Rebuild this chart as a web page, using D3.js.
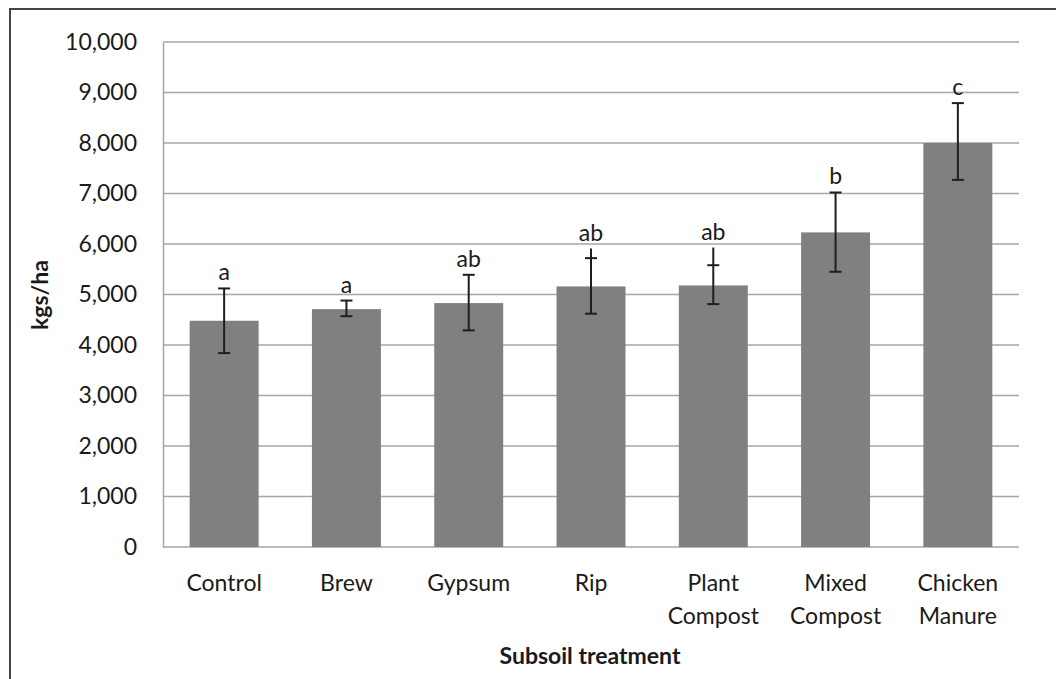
<!DOCTYPE html>
<html>
<head>
<meta charset="utf-8">
<script src="https://cdn.jsdelivr.net/npm/d3@7/dist/d3.min.js"></script>
<style>
  html, body { margin: 0; padding: 0; background: #fff; }
  svg { display: block; font-family: Lato, "Open Sans", sans-serif; }
</style>
</head>
<body>
<svg id="chart" width="1056" height="679"></svg>
<script>
// Subsoil treatment yields (kgs/ha) with error bars and significance letters
const categories = [["Control"], ["Brew"], ["Gypsum"], ["Rip"], ["Plant", "Compost"], ["Mixed", "Compost"], ["Chicken", "Manure"]];
const means      = [4480, 4710, 4830, 5160, 5180, 6230, 8000];
const errLow     = [3840, 4570, 4290, 4620, 4810, 5450, 7270];
const errHigh    = [5120, 4880, 5390, 5720, 5580, 7020, 8790];
const stemTop    = [5120, 4880, 5390, 5910, 5930, 7020, 8790];
const letters    = ["a", "a", "ab", "ab", "ab", "b", "c"];
const yTicks     = [0, 1000, 2000, 3000, 4000, 5000, 6000, 7000, 8000, 9000, 10000];

const svg = d3.select("#chart");
const margin = { left: 163, right: 37, top: 42, bottom: 132 };
const W = 1056, H = 679;
const innerW = W - margin.left - margin.right;
const innerH = H - margin.top - margin.bottom;

// outer frame
svg.append("rect")
  .attr("x", 10).attr("y", 9)
  .attr("width", 1200).attr("height", 800)
  .attr("fill", "none").attr("stroke", "#444").attr("stroke-width", 2);

const g = svg.append("g").attr("transform", `translate(${margin.left},${margin.top})`);

const keys = categories.map(c => c.join(" "));
const x = d3.scaleBand().domain(keys).range([0, innerW]).paddingInner(0.436).paddingOuter(0.218);
const y = d3.scaleLinear().domain([0, 10000]).range([innerH, 0]);

// horizontal gridlines
g.append("g")
  .selectAll("line")
  .data(yTicks)
  .join("line")
  .attr("x1", 0).attr("x2", innerW)
  .attr("y1", d => y(d)).attr("y2", d => y(d))
  .attr("stroke", "#a6a6a6").attr("stroke-width", 1.5);

// y axis
const yAxis = g.append("g")
  .call(d3.axisLeft(y).tickValues(yTicks).tickFormat(d3.format(",")).tickSize(0).tickPadding(26));
yAxis.select(".domain").attr("stroke", "#a6a6a6").attr("stroke-width", 1.5);
yAxis.selectAll("text")
  .attr("font-size", 23).attr("fill", "#1a1a1a")
  .attr("font-family", "Lato, 'Open Sans', sans-serif");

// bars
g.append("g")
  .selectAll("rect")
  .data(means)
  .join("rect")
  .attr("x", (d, i) => x(keys[i]))
  .attr("y", d => y(d))
  .attr("width", x.bandwidth())
  .attr("height", d => y(0) - y(d))
  .attr("fill", "#808080");

// error bars
const eb = g.append("g").attr("stroke", "#1e1e1e").attr("stroke-width", 2);
const cx = i => x(keys[i]) + x.bandwidth() / 2;
const capW = 6;
means.forEach((m, i) => {
  eb.append("line")
    .attr("x1", cx(i)).attr("x2", cx(i))
    .attr("y1", y(errLow[i])).attr("y2", y(stemTop[i]));
  [errLow[i], errHigh[i]].forEach(v => {
    eb.append("line")
      .attr("x1", cx(i) - capW).attr("x2", cx(i) + capW)
      .attr("y1", y(v)).attr("y2", y(v));
  });
});

// significance letters
g.append("g")
  .selectAll("text")
  .data(letters)
  .join("text")
  .attr("x", (d, i) => cx(i))
  .attr("y", (d, i) => y(stemTop[i]) - 8)
  .attr("text-anchor", "middle")
  .attr("font-size", 23)
  .attr("fill", "#1a1a1a")
  .text(d => d);

// x category labels
const xl = g.append("g");
categories.forEach((lines, i) => {
  const t = xl.append("text")
    .attr("x", cx(i))
    .attr("y", innerH + 44)
    .attr("text-anchor", "middle")
    .attr("font-size", 23)
    .attr("fill", "#1a1a1a");
  lines.forEach((ln, j) => {
    t.append("tspan").attr("x", cx(i)).attr("dy", j === 0 ? 0 : 33).text(ln);
  });
});

// axis titles
svg.append("text")
  .attr("x", margin.left + innerW / 2 - 1)
  .attr("y", 664)
  .attr("text-anchor", "middle")
  .attr("font-size", 23)
  .attr("font-weight", "bold")
  .attr("fill", "#1a1a1a")
  .text("Subsoil treatment");

svg.append("text")
  .attr("transform", "translate(48,295) rotate(-90)")
  .attr("text-anchor", "middle")
  .attr("font-size", 23)
  .attr("font-weight", "bold")
  .attr("fill", "#1a1a1a")
  .text("kgs/ha");
</script>
</body>
</html>
